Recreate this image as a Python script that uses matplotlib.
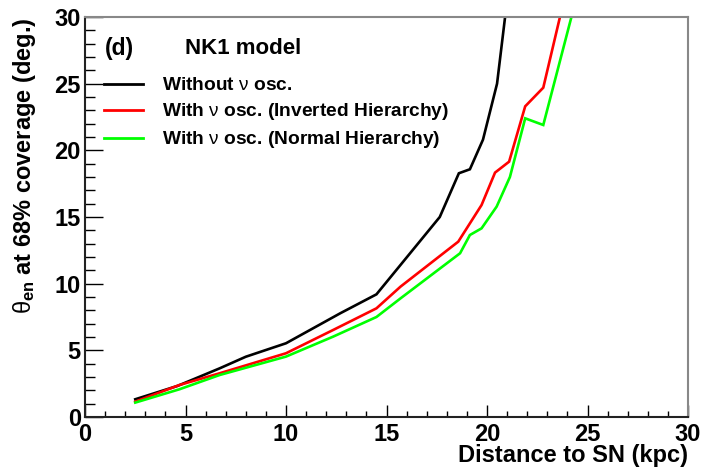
import matplotlib
matplotlib.use("Agg")
import matplotlib.pyplot as plt
from matplotlib.ticker import MultipleLocator

plt.rcParams['font.family'] = ['Liberation Sans', 'DejaVu Sans']
plt.rcParams['mathtext.fontset'] = 'custom'
plt.rcParams['mathtext.rm'] = 'Liberation Sans'
plt.rcParams['mathtext.it'] = 'Liberation Sans'
plt.rcParams['mathtext.bf'] = 'Liberation Sans:bold'

# Distance to supernova (kpc) and angular resolution (deg.)
dist_no_osc = [2.5, 4.6, 6.7, 8.0, 10.0, 11.2, 12.7, 14.5, 17.65, 18.6, 19.15, 19.8, 20.5, 20.9]
theta_no_osc = [1.33, 2.33, 3.65, 4.52, 5.53, 6.53, 7.78, 9.2, 15.0, 18.28, 18.58, 20.8, 25.0, 30.0]

dist_ih = [2.5, 4.7, 6.7, 10.0, 12.35, 14.5, 15.7, 18.57, 19.73, 20.4, 21.1, 21.9, 22.8, 23.63]
theta_ih = [1.15, 2.4, 3.28, 4.78, 6.53, 8.15, 9.78, 13.15, 15.9, 18.33, 19.15, 23.3, 24.7, 30.0]

dist_nh = [2.5, 4.7, 6.7, 10.0, 12.35, 14.5, 15.7, 18.66, 19.15, 19.73, 20.48, 21.14, 21.9, 22.8, 24.2]
theta_nh = [1.08, 2.08, 3.15, 4.53, 6.03, 7.5, 8.9, 12.28, 13.65, 14.15, 15.78, 18.0, 22.4, 21.9, 30.0]

labels = [r"Without $\nu$ osc.",
          r"With $\nu$ osc. (Inverted Hierarchy)",
          r"With $\nu$ osc. (Normal Hierarchy)"]
colors = ["black", "#ff0000", "#00ff00"]

fig = plt.figure(figsize=(7.2, 4.69), dpi=100)
ax = fig.add_axes([85 / 720, 1 - 417 / 469, 603 / 720, 400 / 469])

for xs, ys, c, lab in zip([dist_no_osc, dist_ih, dist_nh],
                          [theta_no_osc, theta_ih, theta_nh], colors, labels):
    ax.plot(xs, ys, color=c, lw=1.9, label=lab, solid_joinstyle='miter')

ax.set_xlim(0, 30)
ax.set_ylim(0, 30)
ax.xaxis.set_major_locator(MultipleLocator(5))
ax.xaxis.set_minor_locator(MultipleLocator(1))
ax.yaxis.set_major_locator(MultipleLocator(5))
ax.yaxis.set_minor_locator(MultipleLocator(1))

ax.tick_params(axis='x', which='major', direction='in', length=8.6, width=1.0, pad=4,
               labelsize=17, top=False)
ax.tick_params(axis='x', which='minor', direction='in', length=4.3, width=1.0, top=False)
ax.tick_params(axis='y', which='major', direction='in', length=13, width=1.0, pad=3,
               labelsize=17, right=False)
ax.tick_params(axis='y', which='minor', direction='in', length=7, width=1.0, right=False)
for lab in ax.get_xticklabels() + ax.get_yticklabels():
    lab.set_fontweight('bold')

for side in ['left', 'bottom']:
    ax.spines[side].set_linewidth(1.5)
    ax.spines[side].set_color('#222222')
for side in ['top', 'right']:
    ax.spines[side].set_linewidth(1.5)
    ax.spines[side].set_color('#888888')

ax.set_xlabel("Distance to SN (kpc)", fontsize=17, fontweight='bold', ha='right', va='top')
ax.xaxis.set_label_coords(1.0, -0.068)
ax.set_ylabel(r"$\theta_{\mathbf{en}}$ at 68% coverage (deg.)", fontsize=17,
              fontweight='bold', ha='right', va='center')
ax.yaxis.set_label_coords(-0.1, 1.0)

ax.text(0.033, 0.92, "(d)", transform=ax.transAxes, fontsize=16.5, fontweight='bold',
        va='center', ha='left')
ax.text(0.166, 0.92, "NK1 model", transform=ax.transAxes, fontsize=16, fontweight='bold',
        va='center', ha='left')

leg = ax.legend(loc='upper left', bbox_to_anchor=(0.032, 0.85), frameon=False,
                prop={'size': 13.8, 'weight': 'bold'}, handlelength=2.0,
                handletextpad=1.0, labelspacing=0.36, borderaxespad=0.0,
                borderpad=0.0)
for h in leg.get_lines():
    h.set_linewidth(2.0)

fig.savefig("out.png", dpi=100)
